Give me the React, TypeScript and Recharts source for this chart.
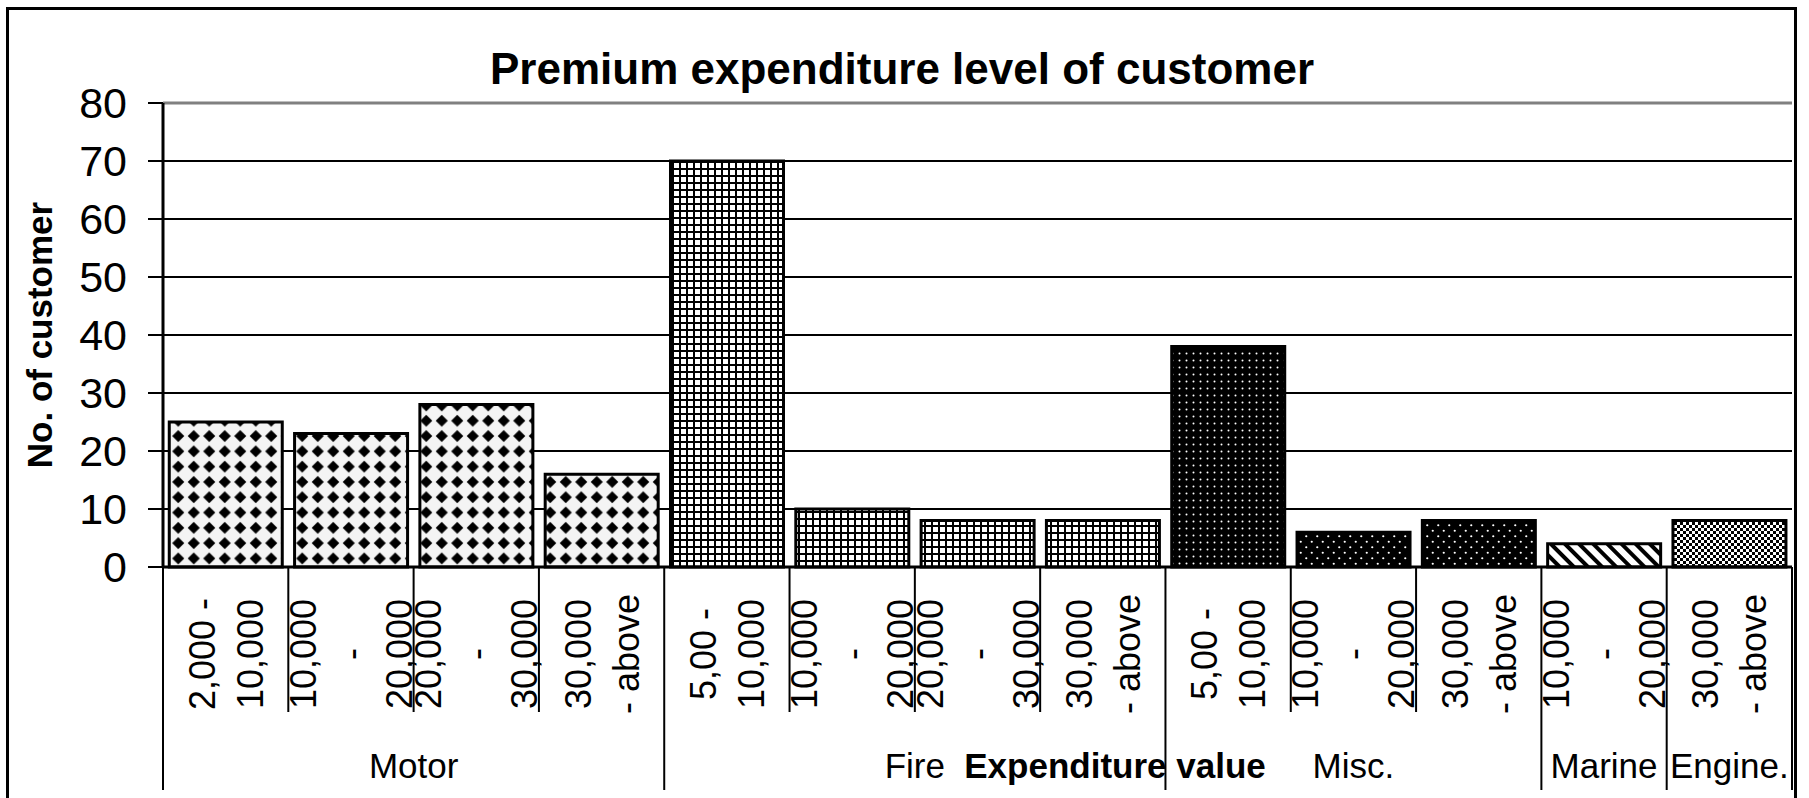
import { BarChart, Bar, Cell, XAxis, YAxis, CartesianGrid, ReferenceLine } from 'recharts';

// Premium expenditure level of customer, by insurance class
const groupNames = ['Motor', 'Fire', 'Misc.', 'Marine', 'Engine.'];
const groupSizes = [4, 4, 3, 1, 1];
const rangeLabels = [
  '2,000 -\n10,000', '10,000\n-\n20,000', '20,000\n-\n30,000', '30,000\n- above',
  '5,00 -\n10,000', '10,000\n-\n20,000', '20,000\n-\n30,000', '30,000\n- above',
  '5,00 -\n10,000', '10,000\n-\n20,000', '30,000\n- above',
  '10,000\n-\n20,000',
  '30,000\n- above',
];
const customers = [25, 23, 28, 16, 70, 10, 8, 8, 38, 6, 8, 4, 8];
const yTicks = [0, 10, 20, 30, 40, 50, 60, 70, 80];

const W = 1809;
const H = 798;
const PLOT_LEFT = 163;
const PLOT_RIGHT = 1792;
const PLOT_TOP = 103;
const PLOT_BOTTOM = 567;
const BAND = (PLOT_RIGHT - PLOT_LEFT) / customers.length;
const FONT = '"Liberation Sans", Arial, sans-serif';

const groupStarts: number[] = [];
const groupOf: number[] = [];
groupSizes.reduce((start, size, g) => {
  groupStarts.push(start);
  for (let i = 0; i < size; i++) groupOf.push(g);
  return start + size;
}, 0);

const data = customers.map((v, i) => ({ key: `${groupNames[groupOf[i]]}-${i}`, customers: v }));

const fillFor = (i: number) => {
  const g = groupOf[i];
  if (g === 0) return 'url(#pat-diamond)';
  if (g === 1) return 'url(#pat-grid)';
  if (g === 2) return i === groupStarts[2] ? 'url(#pat-dots-dense)' : 'url(#pat-dots)';
  if (g === 3) return 'url(#pat-diag)';
  return 'url(#pat-checker)';
};

const CategoryTick = (props: any) => {
  const x: number = props.x;
  const index: number = props.index ?? props.payload?.index ?? 0;
  const lines = rangeLabels[index].split('\n');
  const left = x - BAND / 2;
  const g = groupStarts.indexOf(index);
  const isLast = index === customers.length - 1;
  return (
    <g>
      <line x1={left} x2={left} y1={PLOT_BOTTOM} y2={g >= 0 ? 790 : 712} stroke="#000" strokeWidth={2} />
      {isLast && <line x1={x + BAND / 2} x2={x + BAND / 2} y1={PLOT_BOTTOM} y2={790} stroke="#000" strokeWidth={2} />}
      {lines.map((t, j) => {
        const cx = x + (j - (lines.length - 1) / 2) * 48;
        return (
          <text
            key={j}
            transform={`translate(${cx + 13},654) rotate(-90)`}
            textAnchor="middle"
            fontSize={36}
            fontFamily={FONT}
            fill="#000"
          >
            {t}
          </text>
        );
      })}
      {g >= 0 && (
        <text x={left + (groupSizes[g] * BAND) / 2} y={778} textAnchor="middle" fontSize={35} fontFamily={FONT} fill="#000">
          {groupNames[g]}
        </text>
      )}
    </g>
  );
};

const ValueTick = (props: any) => (
  <text x={props.x} y={props.y} dy="0.36em" textAnchor="end" fontSize={43} fontFamily={FONT} fill="#000">
    {props.payload.value}
  </text>
);

const Patterns = () => (
  <svg width={0} height={0} style={{ position: 'absolute' }}>
    <defs>
      <pattern id="pat-diamond" patternUnits="userSpaceOnUse" width={15.5} height={15.3}>
        <rect width={15.5} height={15.3} fill="#f4f4f4" />
        <polygon points="7.75,1.7 13.8,7.65 7.75,13.6 1.7,7.65" fill="#000" />
      </pattern>
      <pattern id="pat-grid" patternUnits="userSpaceOnUse" width={7} height={7}>
        <rect width={7} height={7} fill="#fff" />
        <rect width={7} height={2} fill="#000" />
        <rect width={2} height={7} fill="#000" />
      </pattern>
      <pattern id="pat-dots-dense" patternUnits="userSpaceOnUse" width={7} height={7}>
        <rect width={7} height={7} fill="#000" />
        <circle cx={3.5} cy={3.5} r={1} fill="#fff" />
      </pattern>
      <pattern id="pat-dots" patternUnits="userSpaceOnUse" width={11} height={11}>
        <rect width={11} height={11} fill="#000" />
        <circle cx={2.75} cy={2.75} r={1.1} fill="#fff" />
        <circle cx={8.25} cy={8.25} r={1.1} fill="#fff" />
      </pattern>
      <pattern id="pat-diag" patternUnits="userSpaceOnUse" width={10} height={10} patternTransform="rotate(-45)">
        <rect width={10} height={10} fill="#fff" />
        <rect width={4} height={10} fill="#000" />
      </pattern>
      <pattern id="pat-checker" patternUnits="userSpaceOnUse" width={6} height={6}>
        <rect width={6} height={6} fill="#fff" />
        <rect width={3} height={3} fill="#000" />
        <rect x={3} y={3} width={3} height={3} fill="#000" />
      </pattern>
    </defs>
  </svg>
);

export default function App() {
  return (
    <div style={{ position: 'fixed', left: 0, top: 0, width: W, height: H, overflow: 'hidden', background: '#fff' }}>
      <Patterns />
      <BarChart
        width={W}
        height={H}
        data={data}
        margin={{ top: PLOT_TOP, right: W - PLOT_RIGHT, bottom: 11, left: 0 }}
        barCategoryGap="5%"
      >
        <CartesianGrid vertical={false} stroke="#000" strokeWidth={2} />
        <XAxis
          dataKey="key"
          interval={0}
          height={220}
          tickLine={false}
          axisLine={{ stroke: '#000', strokeWidth: 3 }}
          tick={CategoryTick}
        />
        <YAxis
          width={PLOT_LEFT}
          domain={[0, 80]}
          ticks={yTicks}
          interval={0}
          tickSize={15}
          tickMargin={21}
          tickLine={{ stroke: '#000', strokeWidth: 2 }}
          axisLine={{ stroke: '#000', strokeWidth: 3 }}
          tick={ValueTick}
        />
        <YAxis
          yAxisId="r"
          orientation="right"
          width={0}
          domain={[0, 80]}
          tick={false}
          tickLine={false}
          axisLine={{ stroke: '#808080', strokeWidth: 3 }}
        />
        <ReferenceLine y={80} stroke="#808080" strokeWidth={3} />
        <Bar dataKey="customers" stroke="#000" strokeWidth={3} isAnimationActive={false}>
          {data.map((d, i) => (
            <Cell key={d.key} fill={fillFor(i)} />
          ))}
        </Bar>
      </BarChart>
      <svg width={W} height={H} style={{ position: 'absolute', left: 0, top: 0, pointerEvents: 'none' }}>
        <rect x={7.5} y={8.5} width={1788} height={900} fill="none" stroke="#000" strokeWidth={3} />
        <text x={902} y={84} textAnchor="middle" fontSize={44} fontWeight="bold" fontFamily={FONT} fill="#000">
          Premium expenditure level of customer
        </text>
        <text transform="translate(52,335) rotate(-90)" textAnchor="middle" fontSize={35} fontWeight="bold" fontFamily={FONT} fill="#000">
          No. of customer
        </text>
        <text x={1115} y={778} textAnchor="middle" fontSize={35} fontWeight="bold" fontFamily={FONT} fill="#000">
          Expenditure value
        </text>
      </svg>
    </div>
  );
}
